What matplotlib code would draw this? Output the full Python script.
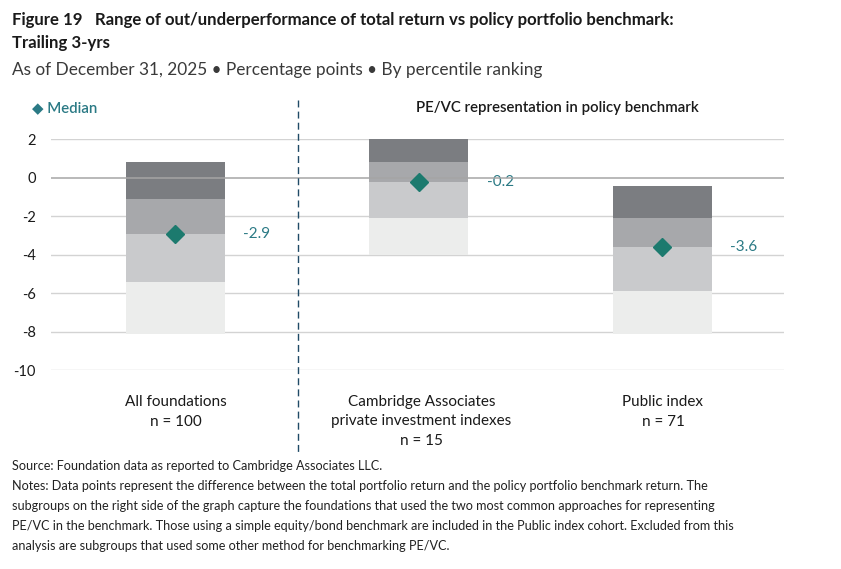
import matplotlib
matplotlib.use("Agg")
import matplotlib.pyplot as plt
from matplotlib.lines import Line2D

plt.rcParams['font.family'] = ['Lato', 'DejaVu Sans']

# percentile ranges (pp): 5th, 25th, median, 75th, 95th
groups = ['All foundations', 'Cambridge Associates', 'Public index']
cat_lines = [['All foundations', 'n = 100'],
             ['Cambridge Associates', 'private investment indexes', 'n = 15'],
             ['Public index', 'n = 71']]
p5 = [0.8, 2.0, -0.4]
p25 = [-1.1, 0.8, -2.1]
median = [-2.9, -0.2, -3.6]
p75 = [-5.4, -2.1, -5.9]
p95 = [-8.1, -4.0, -8.1]
yticks = [2, 0, -2, -4, -6, -8, -10]

band_colors = ['#7b7d81', '#a7a8ab', '#c9cacc', '#ecedec']
teal = '#1c7a6e'
label_teal = '#2b7a85'

fig = plt.figure(figsize=(8.41, 5.69), dpi=100)
W, H = 841, 569
ax = fig.add_axes([51 / W, 1 - 370.3 / H, (784 - 51) / W, (370.3 - 139.3) / H])

xs = list(range(len(groups)))
bounds = [p5, p25, median, p75, p95]
for i in range(4):
    tops = bounds[i]
    bots = bounds[i + 1]
    ax.bar(xs, [t - b for t, b in zip(tops, bots)], bottom=bots, width=0.405,
           color=band_colors[i], zorder=2, linewidth=0)

ax.plot(xs, median, linestyle='none', marker='D', markersize=9,
        color=teal, zorder=5)
for x, m in zip(xs, median):
    ax.text(x + 0.28, m, f'{m:.1f}', color=label_teal, fontsize=11,
            va='center', ha='left')

for y in yticks:
    if y == 0:
        ax.axhline(y, color='#a5a5a5', lw=1.1, zorder=3)
    else:
        ax.axhline(y, color='#d3d3d3', lw=1.0, zorder=1)

ax.set_xlim(-0.51, 2.5)
ax.set_ylim(-10, 2)
ax.set_yticks(yticks)
ax.set_yticklabels([str(t) for t in yticks], fontsize=10.5, color='#1a1a1a')
ax.tick_params(axis='y', length=0, pad=11)
ax.set_xticks([])
for s in ax.spines.values():
    s.set_visible(False)
ax.patch.set_alpha(0)

# divider between all foundations and the subgroups
fig.add_artist(Line2D([298 / W, 298 / W], [1 - 100 / H, 1 - 455 / H],
                      color='#1f4a66', lw=1.0, linestyle=(0, (5, 3))))

# category labels below the plot
centers = [176, 421.5, 663]
for cx, lines in zip(centers, cat_lines):
    for j, t in enumerate(lines):
        fig.text(cx / W, 1 - (402 + 19.5 * j) / H, t, ha='center', va='center',
                 fontsize=11, color='#1a1a1a')

# header texts
fig.text(12 / W, 1 - 25 / H,
         'Figure 19   Range of out/underperformance of total return vs policy portfolio benchmark:',
         fontsize=12.1, fontweight='bold', color='#1a1a1a', va='baseline')
fig.text(12 / W, 1 - 48 / H, 'Trailing 3-yrs', fontsize=12.1, fontweight='bold',
         color='#1a1a1a', va='baseline')
fig.text(12 / W, 1 - 75 / H,
         'As of December 31, 2025 \u2022 Percentage points \u2022 By percentile ranking',
         fontsize=12.4, color='#3a3a3a', va='baseline')

fig.text(32 / W, 1 - 108 / H, '\u25c6 Median', fontsize=10.8, color=label_teal,
         fontweight='semibold', va='center', ha='left')
fig.text(557 / W, 1 - 108 / H, 'PE/VC representation in policy benchmark',
         fontsize=10.8, fontweight='semibold', color='#1a1a1a', va='center', ha='center')

notes = ['Source: Foundation data as reported to Cambridge Associates LLC.',
         'Notes: Data points represent the difference between the total portfolio return and the policy portfolio benchmark return. The',
         'subgroups on the right side of the graph capture the foundations that used the two most common approaches for representing',
         'PE/VC in the benchmark. Those using a simple equity/bond benchmark are included in the Public index cohort. Excluded from this',
         'analysis are subgroups that used some other method for benchmarking PE/VC.']
for j, t in enumerate(notes):
    fig.text(12 / W, 1 - (466 + 20 * j) / H, t, fontsize=9.1, color='#222222',
             va='center', ha='left')

fig.savefig('out.png', dpi=100)
